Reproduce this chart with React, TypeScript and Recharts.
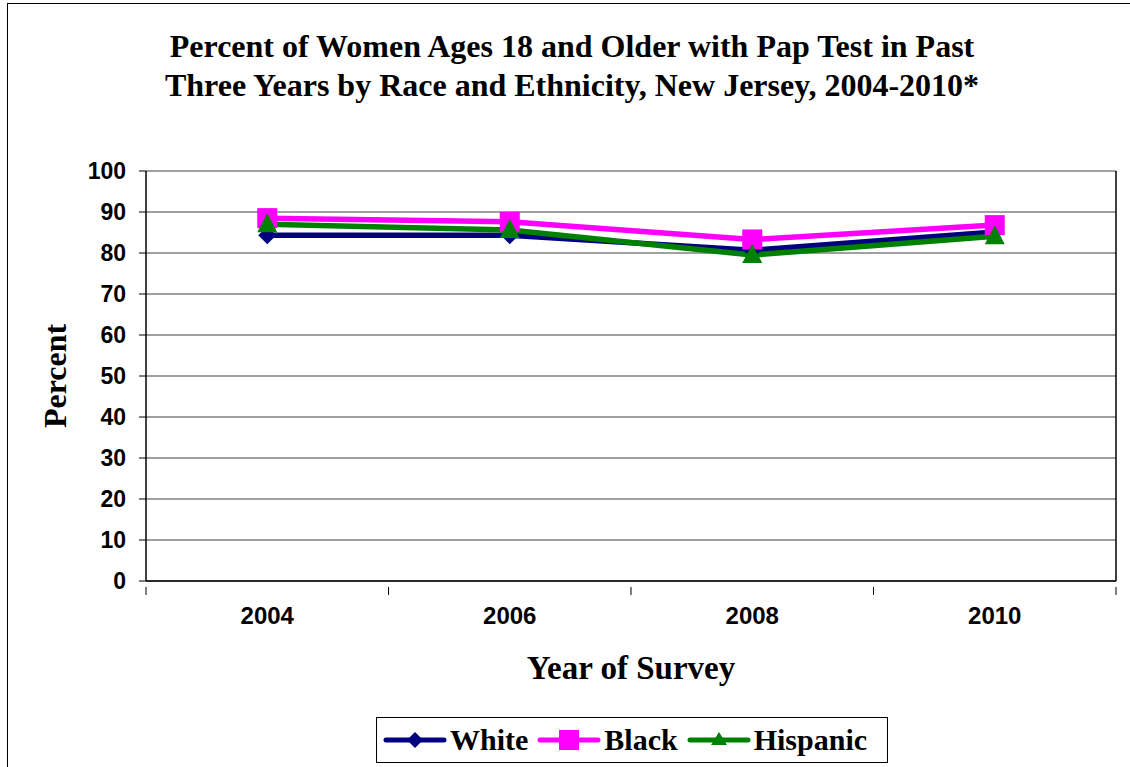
import { CartesianGrid, Line, LineChart, ReferenceLine, XAxis, YAxis } from "recharts";

const YEARS = [2004, 2006, 2008, 2010];
const WHITE = [84.3, 84.3, 80.7, 85.1];
const BLACK = [88.5, 87.6, 83.3, 86.8];
const HISPANIC = [87.0, 85.6, 79.5, 84.1];

const Y_TICKS = [0, 10, 20, 30, 40, 50, 60, 70, 80, 90, 100];
// odd years mark the category boundaries, even years carry the labels
const X_TICKS = [2003, 2004, 2005, 2006, 2007, 2008, 2009, 2010, 2011];

const SERIF = '"Liberation Serif", "Times New Roman", serif';
const SANS = '"Liberation Sans", Arial, sans-serif';

const NAVY = "#000080";
const MAGENTA = "#ff00ff";
const GREEN = "#008000";

const data = YEARS.map((year, i) => ({
  year,
  white: WHITE[i],
  black: BLACK[i],
  hispanic: HISPANIC[i]
}));

type DotProps = { cx?: number; cy?: number; index?: number };

const Diamond = ({ cx = 0, cy = 0, index }: DotProps) => (
  <path key={`d-${index}`} d={`M${cx},${cy - 9} L${cx + 9},${cy} L${cx},${cy + 9} L${cx - 9},${cy} Z`} fill={NAVY} />
);

const Square = ({ cx = 0, cy = 0, index }: DotProps) => (
  <rect key={`s-${index}`} x={cx - 10} y={cy - 10} width={20} height={20} fill={MAGENTA} />
);

const Triangle = ({ cx = 0, cy = 0, index }: DotProps) => (
  <path key={`t-${index}`} d={`M${cx},${cy - 11} L${cx + 10},${cy + 8} L${cx - 10},${cy + 8} Z`} fill={GREEN} />
);

const YearTick = ({ x = 0, y = 0, payload }: { x?: number; y?: number; payload?: { value: number } }) => {
  const v = payload?.value ?? 0;
  if (v % 2 === 1) {
    return <line x1={x} x2={x} y1={y - 2} y2={y + 6} stroke="#000" strokeWidth={1} />;
  }
  return (
    <text x={x} y={y + 35} textAnchor="middle" fontFamily={SANS} fontWeight="bold" fontSize={24} fill="#000">
      {v}
    </text>
  );
};

const legendItems = [
  { name: "White", color: NAVY, marker: "diamond" },
  { name: "Black", color: MAGENTA, marker: "square" },
  { name: "Hispanic", color: GREEN, marker: "triangle" }
];

const LegendIcon = ({ color, marker }: { color: string; marker: string }) => (
  <svg width={64} height={20} style={{ display: "block" }}>
    <line x1={3} x2={61} y1={10} y2={10} stroke={color} strokeWidth={5} strokeLinecap="round" />
    {marker === "diamond" && <path d="M32,2 L40,10 L32,18 L24,10 Z" fill={color} />}
    {marker === "square" && <rect x={22} y={0} width={20} height={20} fill={color} />}
    {marker === "triangle" && <path d="M32,2 L40,15 L24,15 Z" fill={color} />}
  </svg>
);

export default function App() {
  return (
    <div
      style={{
        position: "absolute",
        left: 7,
        top: 3,
        width: 1140,
        height: 780,
        border: "1px solid #000",
        background: "#fff"
      }}
    >
      <div
        style={{
          position: "absolute",
          left: 0,
          top: 23,
          width: 1128,
          textAlign: "center",
          fontFamily: SERIF,
          fontWeight: "bold",
          fontSize: 32,
          lineHeight: "39px",
          color: "#000"
        }}
      >
        Percent of Women Ages 18 and Older with Pap Test in Past
        <br />
        Three Years by Race and Ethnicity, New Jersey, 2004-2010*
      </div>

      <LineChart
        width={1130}
        height={770}
        data={data}
        margin={{ top: 167, right: 22, bottom: 163, left: 78 }}
      >
        <CartesianGrid horizontal vertical={false} stroke="#404040" strokeWidth={1} />
        <XAxis
          dataKey="year"
          type="number"
          domain={[2003, 2011]}
          ticks={X_TICKS}
          interval={0}
          tickLine={false}
          tick={<YearTick />}
          axisLine={{ stroke: "#000", strokeWidth: 1.5 }}
          height={30}
          label={{
            value: "Year of Survey",
            position: "insideBottom",
            offset: -68,
            style: { fontFamily: SERIF, fontWeight: "bold", fontSize: 33, fill: "#000" }
          }}
        />
        <YAxis
          type="number"
          domain={[0, 100]}
          ticks={Y_TICKS}
          interval={0}
          width={60}
          tickSize={7}
          tickMargin={13}
          tickLine={{ stroke: "#000" }}
          axisLine={{ stroke: "#000", strokeWidth: 1.5 }}
          tick={{ fontFamily: SANS, fontWeight: "bold", fontSize: 23, fill: "#000" }}
          label={{
            value: "Percent",
            angle: -90,
            position: "insideLeft",
            offset: -31,
            style: { textAnchor: "middle", fontFamily: SERIF, fontWeight: "bold", fontSize: 32, fill: "#000" }
          }}
        />
        <ReferenceLine x={2011} stroke="#000" strokeWidth={1.5} />
        <Line
          dataKey="white"
          stroke={NAVY}
          strokeWidth={5.5}
          dot={<Diamond />}
          activeDot={false}
          isAnimationActive={false}
        />
        <Line
          dataKey="black"
          stroke={MAGENTA}
          strokeWidth={5.5}
          dot={<Square />}
          activeDot={false}
          isAnimationActive={false}
        />
        <Line
          dataKey="hispanic"
          stroke={GREEN}
          strokeWidth={5.5}
          dot={<Triangle />}
          activeDot={false}
          isAnimationActive={false}
        />
      </LineChart>

      <div
        style={{
          position: "absolute",
          left: 368,
          top: 713,
          width: 512,
          height: 46,
          border: "1px solid #000",
          display: "flex",
          alignItems: "center",
          boxSizing: "border-box",
          paddingLeft: 6,
          fontFamily: SERIF,
          fontWeight: "bold",
          fontSize: 30,
          color: "#000"
        }}
      >
        {legendItems.map((item) => (
          <div key={item.name} style={{ display: "flex", alignItems: "center", marginRight: 9 }}>
            <LegendIcon color={item.color} marker={item.marker} />
            <span style={{ marginLeft: 3 }}>{item.name}</span>
          </div>
        ))}
      </div>
    </div>
  );
}
